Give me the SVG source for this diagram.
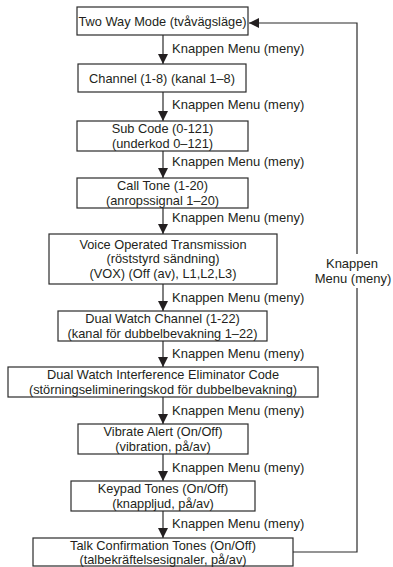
<svg xmlns="http://www.w3.org/2000/svg" width="393" height="567" viewBox="0 0 393 567">
<style>
.box{fill:#fff;stroke:#2b2b2b;stroke-width:1.2}
text{font-family:"Liberation Sans",Arial,sans-serif;font-size:13px;fill:#231f20}
.c{text-anchor:middle;font-size:12.8px}
.fb{text-anchor:middle}
.ln{fill:none;stroke:#2b2b2b;stroke-width:1.2}
</style>
<defs>
<marker id="ah" markerWidth="10" markerHeight="10" refX="10" refY="5" orient="auto" markerUnits="userSpaceOnUse">
<path d="M0,0 L10,5 L0,10 Z" fill="#231f20"/>
</marker>
</defs>
<rect width="393" height="567" fill="#fff"/>
<g id="connectors">
<line class="ln" x1="163" y1="35" x2="163" y2="64" marker-end="url(#ah)"/>
<line class="ln" x1="163" y1="92" x2="163" y2="121" marker-end="url(#ah)"/>
<line class="ln" x1="163" y1="151" x2="163" y2="178" marker-end="url(#ah)"/>
<line class="ln" x1="163" y1="208" x2="163" y2="234" marker-end="url(#ah)"/>
<line class="ln" x1="163" y1="284" x2="163" y2="311" marker-end="url(#ah)"/>
<line class="ln" x1="163" y1="341" x2="163" y2="367" marker-end="url(#ah)"/>
<line class="ln" x1="163" y1="397" x2="163" y2="424" marker-end="url(#ah)"/>
<line class="ln" x1="163" y1="454" x2="163" y2="481" marker-end="url(#ah)"/>
<line class="ln" x1="163" y1="511" x2="163" y2="538" marker-end="url(#ah)"/>
<path class="ln" d="M293,552 H357 V288"/>
<path class="ln" d="M357,254 V23 H249" marker-end="url(#ah)"/>
<text x="172" y="53">Knappen Menu (meny)</text>
<text x="172" y="109">Knappen Menu (meny)</text>
<text x="172" y="166">Knappen Menu (meny)</text>
<text x="172" y="222">Knappen Menu (meny)</text>
<text x="172" y="302">Knappen Menu (meny)</text>
<text x="172" y="358">Knappen Menu (meny)</text>
<text x="172" y="415">Knappen Menu (meny)</text>
<text x="172" y="472">Knappen Menu (meny)</text>
<text x="172" y="528">Knappen Menu (meny)</text>
<text class="fb" x="352" y="268">Knappen</text>
<text class="fb" x="353" y="283">Menu (meny)</text>
</g>
<g id="n1"><rect class="box" x="77" y="7" width="171" height="28"/><text class="c" x="162.5" y="26">Two Way Mode (tvåvägsläge)</text></g>
<g id="n2"><rect class="box" x="78" y="64" width="168" height="28"/><text class="c" x="162" y="83">Channel (1-8) (kanal 1–8)</text></g>
<g id="n3"><rect class="box" x="77" y="121" width="171" height="30"/><text class="c" x="162.5" y="133">Sub Code (0-121)</text><text class="c" x="162.5" y="147.5">(underkod 0–121)</text></g>
<g id="n4"><rect class="box" x="77" y="178" width="171" height="30"/><text class="c" x="162.5" y="190">Call Tone (1-20)</text><text class="c" x="162.5" y="204.5">(anropssignal 1–20)</text></g>
<g id="n5"><rect class="box" x="49" y="234" width="228" height="50"/><text class="c" x="163" y="248.5">Voice Operated Transmission</text><text class="c" x="163" y="263">(röststyrd sändning)</text><text class="c" x="163" y="277.5">(VOX) (Off (av), L1,L2,L3)</text></g>
<g id="n6"><rect class="box" x="58" y="311" width="209" height="30"/><text class="c" x="162.5" y="323">Dual Watch Channel (1-22)</text><text class="c" x="162.5" y="337.5">(kanal för dubbelbevakning 1–22)</text></g>
<g id="n7"><rect class="box" x="8" y="367" width="310" height="30"/><text class="c" x="163" y="379">Dual Watch Interference Eliminator Code</text><text class="c" x="163" y="393.5">(störningselimineringskod för dubbelbevakning)</text></g>
<g id="n8"><rect class="box" x="78" y="424" width="170" height="30"/><text class="c" x="163" y="436">Vibrate Alert (On/Off)</text><text class="c" x="163" y="450.5">(vibration, på/av)</text></g>
<g id="n9"><rect class="box" x="71" y="481" width="184" height="30"/><text class="c" x="163" y="493">Keypad Tones (On/Off)</text><text class="c" x="163" y="507.5">(knappljud, på/av)</text></g>
<g id="n10"><rect class="box" x="33" y="538" width="260" height="28"/><text class="c" x="163" y="550">Talk Confirmation Tones (On/Off)</text><text class="c" x="163" y="564">(talbekräftelsesignaler, på/av)</text></g>
</svg>
